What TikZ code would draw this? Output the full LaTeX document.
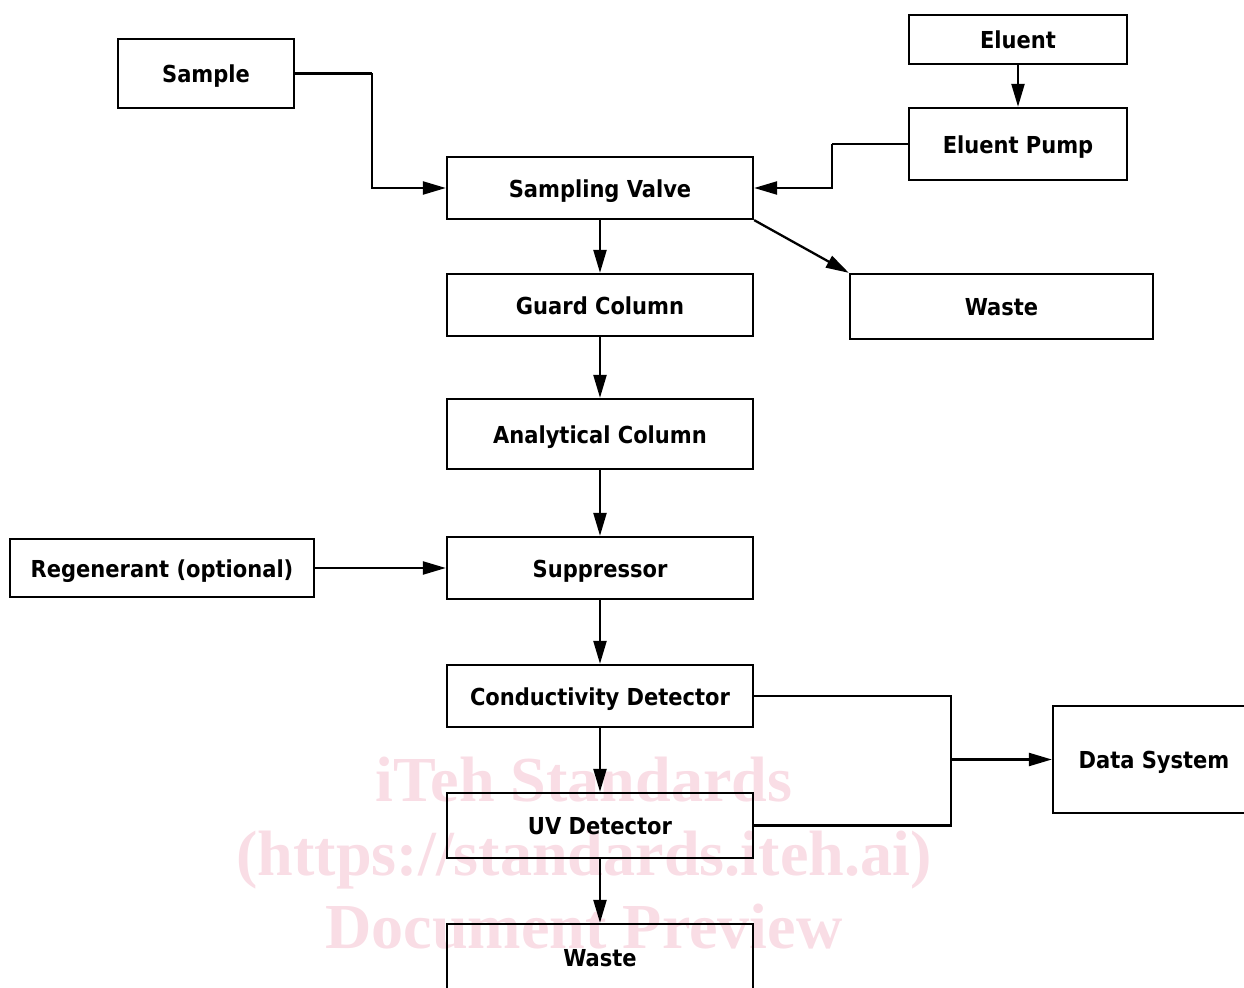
\documentclass[tikz,border=0pt]{standalone}
\usepackage{fontspec}
\newfontfamily\boxfont{DejaVu Sans Condensed}
\newfontfamily\markfont{Liberation Serif}
\usetikzlibrary{arrows.meta}
\definecolor{markpink}{RGB}{249,221,229}

\begin{document}
\begin{tikzpicture}[
		box/.style={draw, line width=1.3pt, minimum width=6.12cm, minimum height=1.24cm, inner sep=0pt,
			text height=10.8pt, text depth=0pt, font=\boxfont\bfseries\fontsize{13.3}{16}\selectfont},
		flow/.style={line width=1.3pt, -{Triangle[length=0.46cm, width=0.26cm]}},
		pipe/.style={line width=1.3pt},
		wmark/.style={anchor=base, text=markpink, font=\markfont\bfseries\fontsize{36.5}{40}\selectfont}
	]
			\useasboundingbox (0, 0) rectangle (24.88, 19.74);
			\clip (0, 0) rectangle (24.88, 19.74);
			% watermark behind the chart
			\node [wmark] (wm1) at (11.68, 3.70) {iTeh Standards};
			\node [wmark] (wm2) at (11.68, 2.22) {(https://standards.iteh.ai)};
			\node [wmark] (wm3) at (11.68, 0.78) {Document Preview};
			% boxes
			\node [box, minimum width=3.52cm, minimum height=1.38cm] (sample) at (4.12, 18.27) {Sample};
			\node [box, minimum width=4.36cm, minimum height=0.98cm] (eluent) at (20.36, 18.95) {Eluent};
			\node [box, minimum width=4.36cm, minimum height=1.44cm] (pump) at (20.36, 16.86) {Eluent Pump};
			\node [box] (valve) at (12.0, 15.98) {Sampling Valve};
			\node [box, minimum width=6.06cm, minimum height=1.30cm] (wastetop) at (20.03, 13.61) {Waste};
			\node [box] (guard) at (12.0, 13.64) {Guard Column};
			\node [box, minimum height=1.40cm] (analytical) at (12.0, 11.06) {Analytical Column};
			\node [box] (suppressor) at (12.0, 8.38) {Suppressor};
			\node [box, minimum width=6.08cm, minimum height=1.16cm] (regen) at (3.24, 8.38) {Regenerant (optional)};
			\node [box] (cond) at (12.0, 5.82) {Conductivity Detector};
			\node [box, minimum height=1.30cm] (uv) at (12.0, 3.23) {UV Detector};
			\node [box, minimum height=1.32cm] (wastebot) at (12.0, 0.60) {Waste};
			\node [box, minimum width=4.04cm, minimum height=2.14cm] (data) at (23.08, 4.55) {Data System};
			% bends
			\coordinate (samplebend) at (7.44, 18.27);
			\coordinate (pumpbend) at (16.64, 16.86);
			\coordinate (join) at (19.02, 4.55);
			% connectors
			\draw [pipe] (sample.east) -- (samplebend);
			\draw [flow] (samplebend) |- (valve.west);
			\draw [flow] (eluent.south) -- (pump.north);
			\draw [pipe] (pump.west) -- (pumpbend);
			\draw [flow] (pumpbend) |- (valve.east);
			\draw [flow] (valve.south east) -- (wastetop.north west);
			\draw [flow] (valve) -- (guard);
			\draw [flow] (guard) -- (analytical);
			\draw [flow] (analytical) -- (suppressor);
			\draw [flow] (regen) -- (suppressor);
			\draw [flow] (suppressor) -- (cond);
			\draw [flow] (cond) -- (uv);
			\draw [flow] (uv) -- (wastebot);
			\draw [pipe] (cond.east) -| (join);
			\draw [pipe] (uv.east) -| (join);
			\draw [flow] (join) -- (data.west);
	\end{tikzpicture}
\end{document}
